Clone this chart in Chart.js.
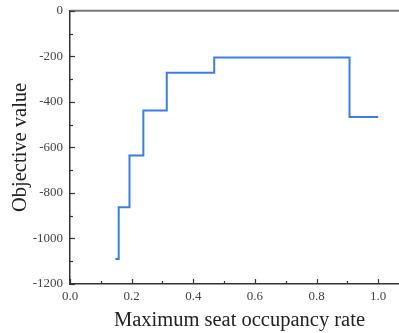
<!DOCTYPE html>
<html>
<head>
<meta charset="utf-8">
<script src="https://cdn.jsdelivr.net/npm/chart.js@4.4.0/dist/chart.umd.min.js"></script>
<style>
  html, body { margin: 0; padding: 0; background: #fff; overflow: hidden; }
  #wrap { width: 399px; height: 333px; overflow: hidden; }
  #box { width: 412px; height: 337px; margin-top: -4px; }
</style>
</head>
<body>
<div id="wrap"><div id="box"><canvas id="chart"></canvas></div></div>
<script>
// step line: maximum seat occupancy rate vs objective value
const rates = [0.147, 0.158, 0.193, 0.238, 0.314, 0.468, 0.907, 1.0];
const objective = [-1090, -863, -636, -438, -272, -205, -467, -467];
const xTicks = [0.0, 0.2, 0.4, 0.6, 0.8, 1.0];
const yTicks = [0, -200, -400, -600, -800, -1000, -1200];

const serif = '"Liberation Serif", "Times New Roman", serif';

// top frame line + inward tick marks, major + minor
const frameTicks = {
  id: 'frameTicks',
  afterDraw(chart) {
    const ctx = chart.ctx;
    const xs = chart.scales.x, ys = chart.scales.y;
    const { top, bottom, left, right } = chart.chartArea;
    ctx.save();
    ctx.strokeStyle = '#777';
    ctx.lineWidth = 2;
    ctx.beginPath();
    ctx.moveTo(left, top);
    ctx.lineTo(right, top);
    ctx.stroke();
    ctx.strokeStyle = '#333';
    ctx.lineWidth = 1.2;
    for (let v = 0; v <= 1.1001; v += 0.1) {
      const px = Math.round(xs.getPixelForValue(v)) + 0.5;
      const major = Math.round(v * 10) % 2 === 0;
      ctx.beginPath();
      ctx.moveTo(px, bottom);
      ctx.lineTo(px, bottom - (major ? 5 : 3));
      ctx.stroke();
    }
    for (let v = 0; v >= -1200; v -= 100) {
      const py = Math.round(ys.getPixelForValue(v)) + 0.5;
      const major = v % 200 === 0;
      ctx.beginPath();
      ctx.moveTo(left, py);
      ctx.lineTo(left + (major ? 5 : 3), py);
      ctx.stroke();
    }
    ctx.restore();
  }
};

new Chart(document.getElementById('chart'), {
  type: 'line',
  data: {
    datasets: [{
      data: rates.map((r, i) => ({ x: r, y: objective[i] })),
      stepped: 'before',
      borderColor: '#3a7fe0',
      borderWidth: 2,
      pointRadius: 0,
      fill: false
    }]
  },
  options: {
    responsive: true,
    maintainAspectRatio: false,
    animation: false,
    layout: { padding: { top: 4, right: 3, left: 0, bottom: 0 } },
    plugins: { legend: { display: false }, tooltip: { enabled: false } },
    scales: {
      x: {
        type: 'linear',
        min: 0,
        max: 1.1,
        afterBuildTicks: s => { s.ticks = xTicks.map(v => ({ value: v })); },
        afterFit: s => { s.height = 49; },
        grid: { display: false, drawTicks: false },
        border: { display: true, color: '#333', width: 1.5 },
        ticks: {
          padding: 5,
          color: '#444',
          font: { family: serif, size: 13 },
          callback: v => v.toFixed(1)
        },
        title: {
          display: true,
          text: 'Maximum seat occupancy rate',
          color: '#222',
          font: { family: serif, size: 20.5 },
          padding: { top: 0, bottom: 0 }
        }
      },
      y: {
        min: -1200,
        max: 0,
        afterBuildTicks: s => { s.ticks = yTicks.map(v => ({ value: v })); },
        afterFit: s => { s.width = 70; },
        grid: { display: false, drawTicks: false },
        border: { display: true, color: '#333', width: 1.5 },
        ticks: {
          padding: 7,
          color: '#444',
          font: { family: serif, size: 13 },
          callback: v => String(v)
        },
        title: {
          display: true,
          text: 'Objective value',
          color: '#222',
          font: { family: serif, size: 20.5 },
          padding: { top: 8, bottom: 0 }
        }
      }
    }
  },
  plugins: [frameTicks]
});
</script>
</body>
</html>
